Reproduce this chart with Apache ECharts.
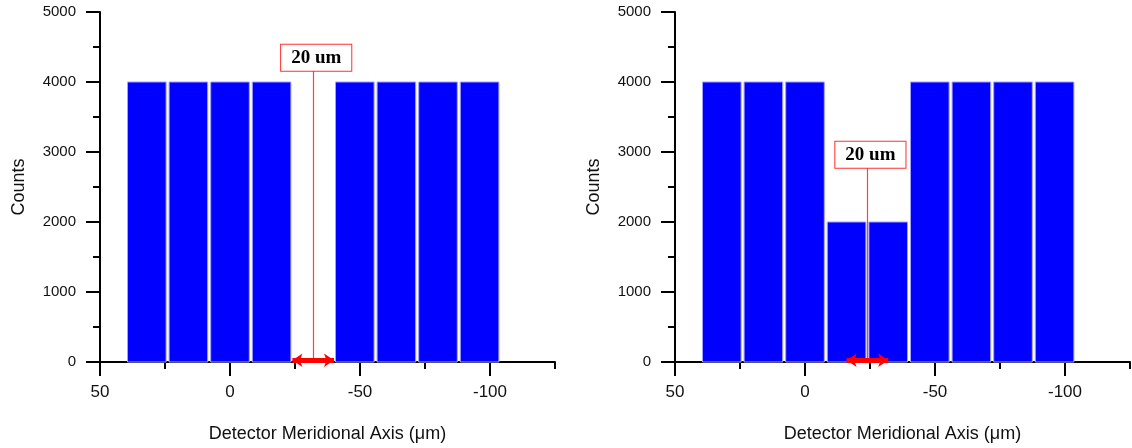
<!DOCTYPE html>
<html>
<head>
<meta charset="utf-8">
<script src="https://cdn.jsdelivr.net/npm/echarts@6/dist/echarts.min.js"></script>
<style>
html,body{margin:0;padding:0;background:#fff;}
#chart{width:1132px;height:448px;}
</style>
</head>
<body>
<div id="chart"></div>
<script>
// ---- data ----
const binCenters = [32, 16, 0, -16, -32, -48, -64, -80, -96];
const binWidth = 16;
const leftCounts  = [4000, 4000, 4000, 4000, 0, 4000, 4000, 4000, 4000];
const rightCounts = [4000, 4000, 4000, 2000, 2000, 4000, 4000, 4000, 4000];
const xMajorTicks = [50, 0, -50, -100];
const xMinorTicks = [25, -25, -75, -125];
const xMin = -125, xMax = 50;
const yMin = 0, yMax = 5000, yInterval = 1000;
const annotText = '20 um';
const leftMarkerX = -32, leftMarkerTop = 4160, leftArrow = [-24, -40];
const rightMarkerX = -24, rightMarkerTop = 2776, rightArrow = [-16, -32];

const xName = 'Detector Meridional Axis (\u03bcm)';
const yName = 'Counts';

const axisColor = '#000';
const textColor = '#111';
const sans = 'Liberation Sans, Arial, sans-serif';

function seriesData(counts){
  return binCenters.map((c, i) => [c, counts[i]]);
}

function renderBar(params, api){
  const x = api.value(0), y = api.value(1);
  if (!y) return null;
  const pA = api.coord([x + binWidth / 2, y]);
  const pB = api.coord([x - binWidth / 2, 0]);
  const l = Math.min(pA[0], pB[0]), r = Math.max(pA[0], pB[0]);
  const t = Math.min(pA[1], pB[1]), b = Math.max(pA[1], pB[1]);
  return {
    type: 'rect',
    shape: {x: l + 1.5, y: t, width: r - l - 3, height: b - t},
    style: {fill: '#0000ff', stroke: '#a0a0ff', lineWidth: 1}
  };
}

function makeX(gridIndex){
  return [{
    type: 'value', gridIndex, position: 'bottom', inverse: true, min: xMin, max: xMax,
    name: xName, nameLocation: 'middle', nameGap: 63,
    nameTextStyle: {fontFamily: sans, fontSize: 18, color: textColor},
    axisLine: {show: true, onZero: false, lineStyle: {color: axisColor, width: 2}},
    axisTick: {show: true, length: 14, lineStyle: {color: axisColor, width: 2}, customValues: xMajorTicks},
    axisLabel: {show: true, margin: 22, fontFamily: sans, fontSize: 17, color: textColor, customValues: xMajorTicks},
    splitLine: {show: false}
  }, {
    type: 'value', gridIndex, position: 'bottom', inverse: true, min: xMin, max: xMax,
    axisLine: {show: false, onZero: false},
    axisTick: {show: true, length: 7, lineStyle: {color: axisColor, width: 2}, customValues: xMinorTicks},
    axisLabel: {show: false},
    splitLine: {show: false}
  }];
}

function makeY(gridIndex){
  return {
    type: 'value', gridIndex, position: 'left', min: yMin, max: yMax, interval: yInterval,
    name: yName, nameLocation: 'middle', nameGap: 72,
    nameTextStyle: {fontFamily: sans, fontSize: 18, color: textColor},
    axisLine: {show: true, onZero: false, lineStyle: {color: axisColor, width: 2}},
    axisTick: {show: true, length: 14, lineStyle: {color: axisColor, width: 2}},
    minorTick: {show: true, splitNumber: 2, length: 7, lineStyle: {color: axisColor, width: 2}},
    axisLabel: {margin: 24, fontFamily: sans, fontSize: 15, color: textColor, formatter: v => String(v)},
    splitLine: {show: false}, minorSplitLine: {show: false}
  };
}

function annotation(xAxisIndex, yAxisIndex, markerX, markerTop, arrow){
  return [{
    type: 'line', xAxisIndex, yAxisIndex, data: [], silent: true, z: 5,
    markLine: {
      silent: true, symbol: ['none', 'none'], animation: false,
      lineStyle: {color: '#ff4040', width: 1.2, type: 'solid', opacity: 1},
      label: {
        show: true, position: 'end', distance: 0, formatter: annotText, offset: [3, 0],
        fontFamily: 'Liberation Serif, Times New Roman, serif', fontWeight: 'bold', fontSize: 19,
        color: '#000', backgroundColor: '#fff', borderColor: '#ff3030', borderWidth: 1,
        padding: [4, 10, 3, 10]
      },
      emphasis: {disabled: true},
      data: [[{coord: [markerX, 0]}, {coord: [markerX, markerTop]}]]
    }
  }, {
    type: 'line', xAxisIndex, yAxisIndex, data: [], silent: true, z: 6,
    markLine: {
      silent: true, symbol: ['arrow', 'arrow'], symbolSize: [10, 10], animation: false,
      lineStyle: {color: '#ff0000', width: 5, type: 'solid', opacity: 1},
      label: {show: false},
      emphasis: {disabled: true},
      data: [[{coord: [arrow[0], 25]}, {coord: [arrow[1], 25]}]]
    }
  }];
}

const chart = echarts.init(document.getElementById('chart'), null, {renderer: 'canvas'});
chart.setOption({
  animation: false,
  backgroundColor: '#fff',
  grid: [
    {left: 100, top: 12, width: 455, height: 350},
    {left: 675, top: 12, width: 455, height: 350}
  ],
  xAxis: [...makeX(0), ...makeX(1)],
  yAxis: [makeY(0), makeY(1)],
  series: [
    {type: 'custom', xAxisIndex: 0, yAxisIndex: 0, renderItem: renderBar, data: seriesData(leftCounts), encode: {x: 0, y: 1}},
    {type: 'custom', xAxisIndex: 2, yAxisIndex: 1, renderItem: renderBar, data: seriesData(rightCounts), encode: {x: 0, y: 1}},
    ...annotation(0, 0, leftMarkerX, leftMarkerTop, leftArrow),
    ...annotation(2, 1, rightMarkerX, rightMarkerTop, rightArrow)
  ]
});
</script>
</body>
</html>
